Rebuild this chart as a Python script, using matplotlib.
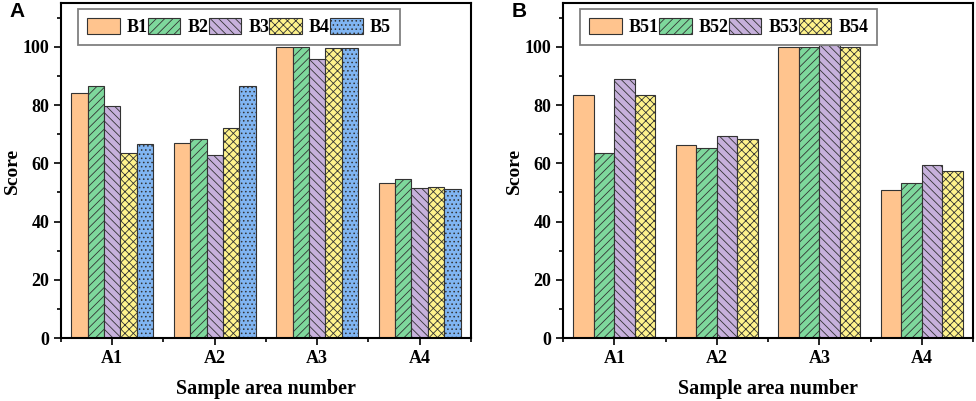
import matplotlib
matplotlib.use('Agg')
import matplotlib.pyplot as plt
from matplotlib.ticker import MultipleLocator
import numpy as np

plt.rcParams['font.family'] = 'Liberation Serif'
plt.rcParams['font.weight'] = 'bold'
plt.rcParams['hatch.linewidth'] = 0.6
plt.rcParams['hatch.color'] = '#333333'

areas = ['A1', 'A2', 'A3', 'A4']

# panel A
namesA = ['B1', 'B2', 'B3', 'B4', 'B5']
B1 = [84.3, 67.0, 99.8, 53.2]
B2 = [86.6, 68.5, 99.8, 54.7]
B3 = [79.7, 62.7, 96.0, 51.4]
B4 = [63.4, 72.3, 99.6, 51.8]
B5 = [66.5, 86.4, 99.6, 51.2]

# panel B
namesB = ['B51', 'B52', 'B53', 'B54']
B51 = [83.5, 66.2, 100.1, 50.7]
B52 = [63.6, 65.2, 99.8, 53.2]
B53 = [88.8, 69.5, 100.6, 59.3]
B54 = [83.5, 68.2, 100.0, 57.2]

colors = ['#FFC48E', '#7ED89C', '#C7B1DC', '#FFF38C', '#80B5F2']
hatches = ['', '////', '\\\\\\\\', 'xxxx', '....']

fig = plt.figure(figsize=(9.76, 4.01), dpi=100)
axA = fig.add_axes([0.0625, 0.157, 0.42, 0.835])
axB = fig.add_axes([0.577, 0.157, 0.42, 0.835])


def draw(ax, series, names, letter):
    x = np.arange(len(areas))
    n = len(series)
    w = 0.8 / n
    for i, vals in enumerate(series):
        off = (i - (n - 1) / 2) * w
        ax.bar(x + off, vals, w, color=colors[i], edgecolor='#333333',
               linewidth=0.8, hatch=hatches[i], label=names[i])
    ax.set_xlim(-0.5, 3.5)
    ax.set_ylim(0, 115)
    ax.set_xticks(x)
    ax.set_xticklabels(areas)
    ax.xaxis.set_minor_locator(MultipleLocator(0.5))
    ax.yaxis.set_major_locator(MultipleLocator(20))
    ax.yaxis.set_minor_locator(MultipleLocator(10))
    ax.tick_params(which='both', direction='out', labelsize=13, width=1.2)
    ax.tick_params(which='major', length=5)
    ax.tick_params(which='minor', length=3)
    for s in ax.spines.values():
        s.set_linewidth(1.5)
    ax.set_xlabel('Sample area number', fontsize=14.5, fontweight='bold', labelpad=9)
    ax.set_ylabel('Score', fontsize=14, fontweight='bold')
    ax.yaxis.set_label_coords(-0.098, 0.5)
    leg = ax.legend(loc='upper left', bbox_to_anchor=(0.042, 0.983), ncol=n,
                    handlelength=1.8, handleheight=1.0, borderaxespad=0,
                    handletextpad=0.4, columnspacing=0.0, borderpad=0.5,
                    fancybox=False, framealpha=1, edgecolor='#808080',
                    prop={'family': 'Liberation Serif', 'weight': 'bold', 'size': 13})
    leg.get_frame().set_linewidth(1.3)
    ax.text(-0.125, 0.975, letter, transform=ax.transAxes, fontsize=15,
            fontweight='bold', family='Liberation Sans', va='center', ha='left')


draw(axA, [B1, B2, B3, B4, B5], namesA, 'A')
draw(axB, [B51, B52, B53, B54], namesB, 'B')

fig.savefig('out.png', dpi=100)
